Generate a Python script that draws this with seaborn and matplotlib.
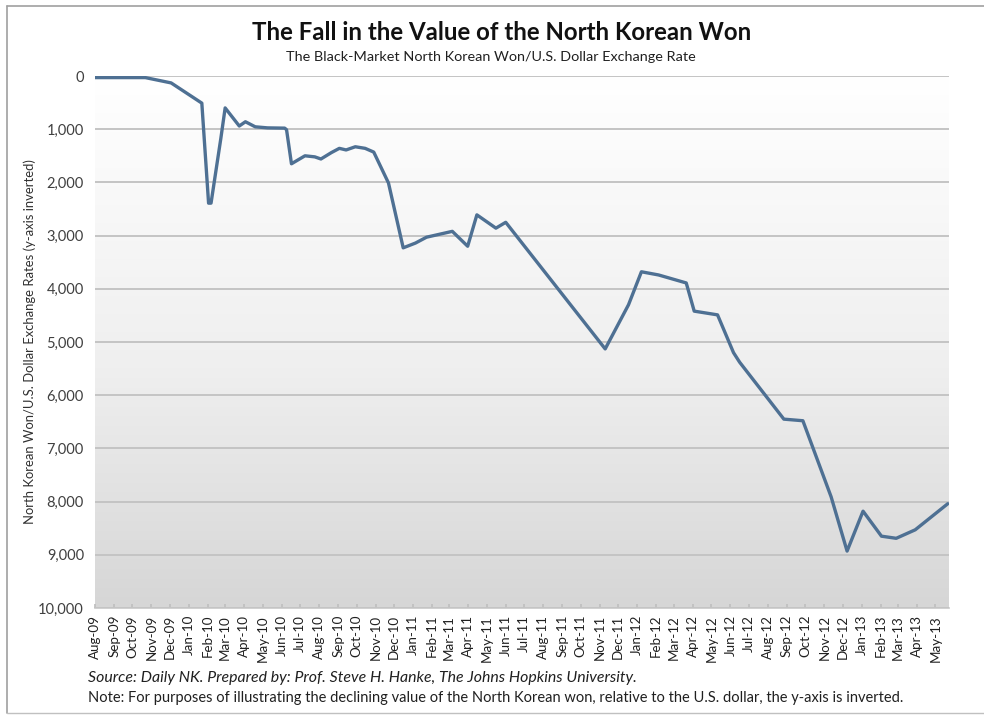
import matplotlib
matplotlib.use("Agg")
import matplotlib.pyplot as plt
import matplotlib.dates as mdates
import numpy as np
import pandas as pd
import seaborn as sns

# ---- data ----
dates = [
    "2009-08-01", "2009-10-22", "2009-12-03", "2010-01-22", "2010-02-02",
    "2010-02-06", "2010-02-22", "2010-03-01", "2010-03-24", "2010-04-03",
    "2010-04-19", "2010-05-09", "2010-06-06", "2010-06-09", "2010-06-17",
    "2010-07-09", "2010-07-25", "2010-08-04", "2010-08-21", "2010-09-03",
    "2010-09-14", "2010-09-29", "2010-10-15", "2010-10-29", "2010-11-22",
    "2010-12-16", "2011-01-05", "2011-01-23", "2011-03-06", "2011-03-31",
    "2011-04-15", "2011-05-16", "2011-06-01", "2011-11-10", "2011-12-18",
    "2012-01-08", "2012-02-05", "2012-03-21", "2012-04-03", "2012-05-11",
    "2012-06-06", "2012-06-16", "2012-08-27", "2012-09-27", "2012-11-12",
    "2012-12-08", "2013-01-03", "2013-02-02", "2013-02-26", "2013-03-29",
    "2013-05-21",
]
rates = [
    30, 30, 130, 510, 2390,
    2390, 1170, 600, 940, 860,
    955, 975, 980, 1010, 1650,
    1500, 1520, 1560, 1440, 1360,
    1390, 1330, 1360, 1430, 2010,
    3230, 3140, 3030, 2920, 3200,
    2610, 2860, 2750, 5130, 4300,
    3680, 3740, 3890, 4420, 4490,
    5200, 5380, 6450, 6480, 7910,
    8930, 8180, 8650, 8690, 8530,
    8040,
]
y_ticks = [0, 1000, 2000, 3000, 4000, 5000, 6000, 7000, 8000, 9000, 10000]

title = "The Fall in the Value of the North Korean Won"
subtitle = "The Black-Market North Korean Won/U.S. Dollar Exchange Rate"
ylabel = "North Korean Won/U.S. Dollar Exchange Rates (y-axis inverted)"
source = "Source: Daily NK. Prepared by: Prof. Steve H. Hanke, The Johns Hopkins University."
note = ("Note: For purposes of illustrating the declining value of the North Korean won, "
        "relative to the U.S. dollar, the y-axis is inverted.")

df = pd.DataFrame({"date": pd.to_datetime(dates), "rate": rates})

sns.set_theme(style="white")
plt.rcParams["font.family"] = ["Lato", "DejaVu Sans"]

W, H = 984, 719
fig = plt.figure(figsize=(W / 100, H / 100), dpi=100)
fig.patch.set_facecolor("white")

ax = fig.add_axes([95 / W, 1 - 608 / H, (949 - 95) / W, (608 - 76) / H])

# gradient background (white at top to light grey at bottom)
grad = np.linspace(1.0, 0.0, 256).reshape(-1, 1)
cmap = matplotlib.colors.LinearSegmentedColormap.from_list(
    "bg", [(0.0, "#d6d6d6"), (0.45, "#efefef"), (1.0, "#ffffff")])
ax.imshow(grad, aspect="auto", cmap=cmap, extent=[0, 1, 0, 1],
          transform=ax.transAxes, zorder=0, origin="upper")

sns.lineplot(data=df, x="date", y="rate", ax=ax, color="#4e7093",
             linewidth=2.4, zorder=3, estimator=None)

ax.set_xlim(pd.Timestamp("2009-08-01"), pd.Timestamp("2013-05-23"))
ax.set_ylim(10000, 0)
ax.set_yticks(y_ticks)
ax.set_yticklabels([f"{v:,}" for v in y_ticks], fontsize=10.5, color="#404040")
ax.yaxis.grid(True, color="#c4c4c4", linewidth=1.4, zorder=1)
ax.set_axisbelow(False)
for gl in ax.get_ygridlines():
    gl.set_zorder(1)

ax.xaxis.set_major_locator(mdates.MonthLocator())
ax.xaxis.set_major_formatter(mdates.DateFormatter("%b-%y"))
plt.setp(ax.get_xticklabels(), rotation=90, fontsize=9.6, color="#202020")
ax.tick_params(axis="x", which="major", length=3, color="#bfbfbf", pad=5,
               bottom=True, direction="in")
ax.tick_params(axis="y", length=0, pad=8)

ax.set_xlabel("")
ax.set_ylabel("")
for side in ["top", "right", "left"]:
    ax.spines[side].set_visible(False)
ax.spines["bottom"].set_color("#c8c8c8")
ax.spines["bottom"].set_linewidth(1.2)

fig.text(30 / W, 1 - 342 / H, ylabel, rotation=90, ha="center", va="center",
         fontsize=9.4, color="#303030")
fig.text(502 / W, 1 - 33 / H, title, ha="center", va="center",
         fontsize=17.3, fontweight="bold", color="#111111")
fig.text(491 / W, 1 - 57 / H, subtitle, ha="center", va="center",
         fontsize=10.4, color="#202020")
fig.text(88 / W, 1 - 678 / H, source, ha="left", va="center",
         fontsize=11.4, style="italic", color="#202020")
fig.text(88 / W, 1 - 698 / H, note, ha="left", va="center",
         fontsize=10.5, color="#202020")

# outer frame
fig.add_artist(matplotlib.lines.Line2D([7 / W, 1.0], [1 - 6 / H, 1 - 6 / H],
               color="#a0a0a0", linewidth=1.2, transform=fig.transFigure))
fig.add_artist(matplotlib.lines.Line2D([7 / W, 7 / W], [1 - 6 / H, 1 - 713 / H],
               color="#a0a0a0", linewidth=1.2, transform=fig.transFigure))
fig.add_artist(matplotlib.lines.Line2D([7 / W, 1.0], [1 - 713 / H, 1 - 713 / H],
               color="#c0c0c0", linewidth=1.0, transform=fig.transFigure))

fig.savefig("out.png", dpi=100)
